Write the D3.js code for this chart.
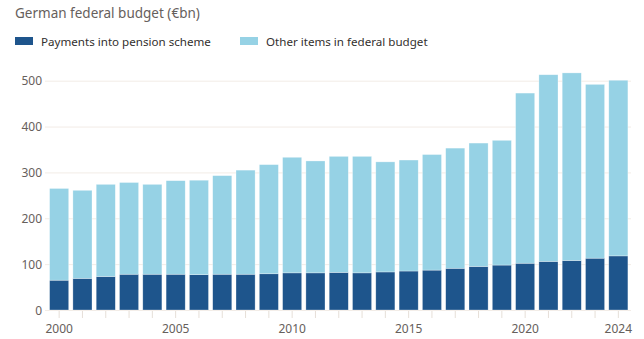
<!DOCTYPE html>
<html>
<head>
<meta charset="utf-8">
<script src="https://cdn.jsdelivr.net/npm/d3@7"></script>
<style>
  body { margin: 0; background: #fff; }
  svg text { font-family: "Noto Sans", Lato, sans-serif; }
</style>
</head>
<body>
<svg id="chart" width="644" height="339"></svg>
<script>
// German federal budget, €bn
var years = d3.range(2000, 2025);
var pension = [65, 69, 73, 78, 78, 78, 77, 78, 78, 79, 81, 81, 82, 81, 83, 85, 87, 91, 95, 98, 102, 106, 108, 113, 118];
var total = [265, 261, 274, 278, 274, 282, 283, 293, 305, 317, 333, 325, 335, 335, 323, 327, 339, 353, 364, 370, 473, 513, 517, 492, 501];
var yTicks = [0, 100, 200, 300, 400, 500];
var xLabels = [2000, 2005, 2010, 2015, 2020, 2024];
var seriesNames = ["Payments into pension scheme", "Other items in federal budget"];
var colors = ["#1e558c", "#96d2e5"];

var rows = years.map(function(y, i) {
    return { year: y, pension: pension[i], other: total[i] - pension[i] };
});

var svg = d3.select("#chart");

var xScale = d3.scaleBand()
    .domain(years)
    .range([47.5, 630])
    .paddingInner(0.18)
    .paddingOuter(0.09);

var yScale = d3.scaleLinear()
    .domain([0, 500])
    .range([310, 80.7]);

// title
svg.append("text")
    .attr("x", 15).attr("y", 18)
    .attr("fill", "#66605c")
    .style("font-size", "13.5px")
    .text("German federal budget (€bn)");

// legend
var legendX = [15, 240];
seriesNames.forEach(function(name, i) {
    svg.append("rect")
        .attr("x", legendX[i]).attr("y", 37)
        .attr("width", 18).attr("height", 8)
        .attr("fill", colors[i]);
    svg.append("text")
        .attr("x", legendX[i] + 26).attr("y", 45.5)
        .attr("fill", "#33302e")
        .style("font-size", "11.6px")
        .text(name);
});

// y grid and labels
var yAxis = d3.axisLeft(yScale)
    .tickValues(yTicks)
    .tickSize(-(631 - 45))
    .tickPadding(3);

var gy = svg.append("g")
    .attr("transform", "translate(45,0)")
    .call(yAxis);
gy.select(".domain").remove();
gy.selectAll(".tick line").attr("stroke", "#f2ece6").attr("stroke-width", 1);
gy.selectAll(".tick text")
    .attr("fill", "#66605c")
    .style("font-size", "12px")
    .attr("dy", "0.35em");

// x axis ticks
var xAxis = d3.axisBottom(xScale)
    .tickSize(7)
    .tickPadding(6)
    .tickFormat(function(d) { return xLabels.indexOf(d) >= 0 ? d : ""; });

var gx = svg.append("g")
    .attr("transform", "translate(0,311)")
    .call(xAxis);
gx.select(".domain").remove();
gx.selectAll(".tick line").attr("stroke", "#e6dfd8");
gx.selectAll(".tick text")
    .attr("fill", "#66605c")
    .style("font-size", "12px");

// stacked bars
var stack = d3.stack().keys(["pension", "other"]);
var layers = stack(rows);

svg.append("g")
    .selectAll("g")
    .data(layers)
    .enter().append("g")
    .attr("fill", function(d, i) { return colors[i]; })
    .selectAll("rect")
    .data(function(d) { return d; })
    .enter().append("rect")
    .attr("x", function(d) { return xScale(d.data.year); })
    .attr("width", xScale.bandwidth())
    .attr("y", function(d) { return yScale(d[1]); })
    .attr("height", function(d) { return yScale(d[0]) - yScale(d[1]); })
    .attr("stroke", "rgba(255,255,255,0.5)")
    .attr("stroke-width", 0.6);
</script>
</body>
</html>
